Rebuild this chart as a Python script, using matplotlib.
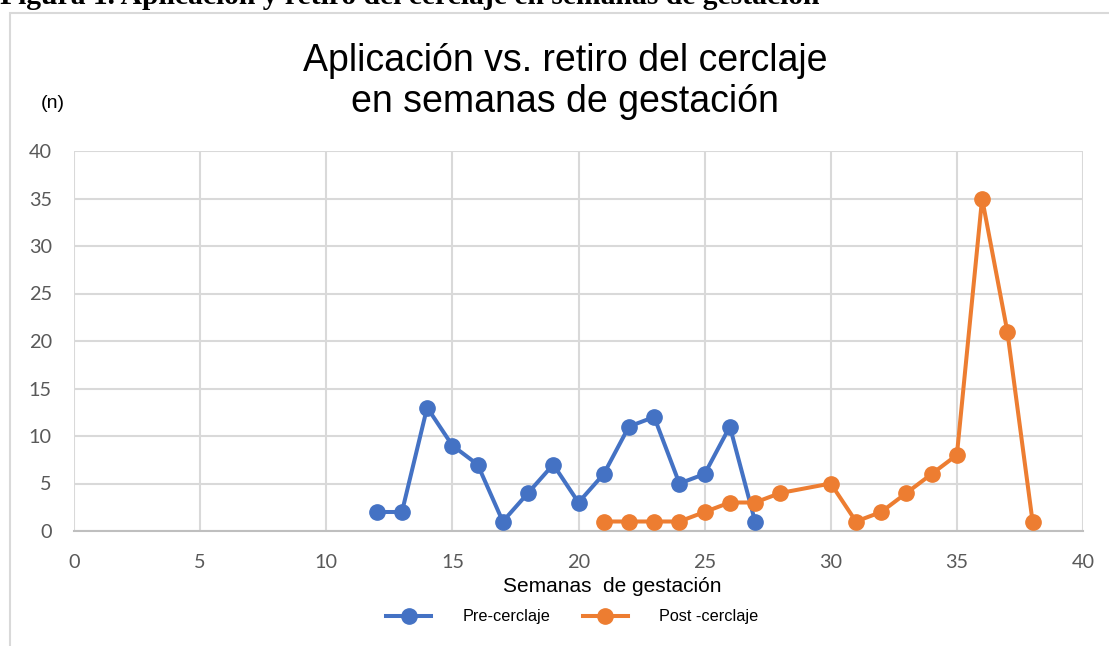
import matplotlib
matplotlib.use("Agg")
import matplotlib.pyplot as plt
from matplotlib.patches import Rectangle

plt.rcParams['font.family'] = ['Liberation Sans', 'DejaVu Sans']

# datos
semanas_pre = [12, 13, 14, 15, 16, 17, 18, 19, 20, 21, 22, 23, 24, 25, 26, 27]
n_pre = [2, 2, 13, 9, 7, 1, 4, 7, 3, 6, 11, 12, 5, 6, 11, 1]
semanas_post = [21, 22, 23, 24, 25, 26, 27, 28, 30, 31, 32, 33, 34, 35, 36, 37, 38]
n_post = [1, 1, 1, 1, 2, 3, 3, 4, 5, 1, 2, 4, 6, 8, 35, 21, 1]

azul = '#4472C4'
naranja = '#ED7D31'
W, H = 1109, 646

fig = plt.figure(figsize=(W / 100, H / 100), dpi=100)
ax = fig.add_axes([74 / W, 1 - 531 / H, (1083 - 74) / W, (531 - 151) / H])

# marco del gráfico
fig.patches.append(Rectangle((10 / W, -0.1), 1.2, 1 - 13 / H + 0.1,
                             transform=fig.transFigure, fill=False,
                             edgecolor='#d9d9d9', linewidth=1.5))

fig.text(0.0, 1 - 4 / H, 'Figura 1. Aplicación y retiro del cerclaje en semanas de gestación',
         family='Liberation Serif', weight='bold', fontsize=21.3, ha='left', va='baseline')

ax.plot(semanas_pre, n_pre, '-o', color=azul, lw=2.9, ms=11, label='Pre-cerclaje', zorder=3)
ax.plot(semanas_post, n_post, '-o', color=naranja, lw=2.9, ms=11, label='Post -cerclaje', zorder=3)

ax.set_xlim(0, 40)
ax.set_ylim(0, 40)
ax.set_xticks(range(0, 41, 5))
ax.set_yticks(range(0, 41, 5))
ax.grid(True, color='#d9d9d9', linewidth=1.5)
ax.set_axisbelow(True)
for s in ['top', 'right', 'left']:
    ax.spines[s].set_visible(False)
ax.spines['bottom'].set_color('#bfbfbf')
ax.spines['bottom'].set_linewidth(1.5)
ax.tick_params(length=0, labelsize=14.3, labelcolor='#595959')
ax.tick_params(axis='x', pad=16.5)
ax.tick_params(axis='y', pad=16)
for lab in ax.get_xticklabels() + ax.get_yticklabels():
    lab.set_family('Lato')

fig.text(612 / W, 1 - 592 / H, 'Semanas  de gestación', fontsize=15, ha='center', va='baseline')
fig.text(565 / W, 1 - 71 / H, 'Aplicación vs. retiro del cerclaje',
         fontsize=27, ha='center', va='baseline')
fig.text(565 / W, 1 - 112 / H, 'en semanas de gestación',
         fontsize=27, ha='center', va='baseline')
fig.text(53 / W, 1 - 103 / H, '(n)', fontsize=14, ha='center', va='center')

fig.legend(loc='center', bbox_to_anchor=(572 / W, 1 - 617 / H), ncol=2, frameon=False,
           fontsize=11.7, handlelength=2.8, handletextpad=1.9, columnspacing=2.0,
           markerscale=1.0)

fig.savefig('out.png', dpi=100)
